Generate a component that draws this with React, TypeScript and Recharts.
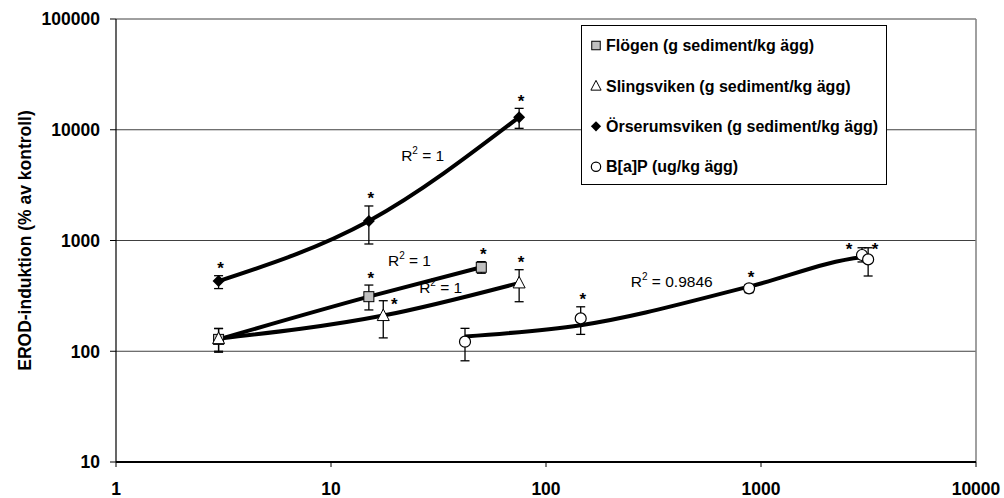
import { ComposedChart, XAxis, YAxis, CartesianGrid, Scatter, Line, ErrorBar, ReferenceLine, Legend } from 'recharts'

const FONT = '"Liberation Sans", Arial, Helvetica, sans-serif'

// dos (x), EROD-induktion i % av kontroll (y), felstaplarnas nedre/övre ände
const flogenX = [3, 15, 50]
const flogenY = [128, 311, 573]
const flogenLo = [98, 236, 506]
const flogenHi = [161, 396, 644]
const flogenSig = [false, true, true]

const slingX = [3, 17.5, 75]
const slingY = [130, 210, 414]
const slingLo = [100, 132, 280]
const slingHi = [160, 286, 545]
const slingSig = [false, true, true]

const orsX = [3, 15, 75]
const orsY = [430, 1500, 13000]
const orsLo = [368, 930, 10300]
const orsHi = [481, 2050, 15600]
const orsSig = [true, true, true]

const bapX = [42, 145, 880, 2950, 3150]
const bapY = [122, 198, 370, 740, 675]
const bapLo = [82, 142, 338, 640, 478]
const bapHi = [161, 252, 400, 860, 860]
const bapSig = [false, true, true, true, true]
// trendlinjen för B[a]P avläst vid samma doser
const bapTrend = [136, 172, 383, 705, 714]

const xTicks = [1, 10, 100, 1000, 10000]
const yTicks = [10, 100, 1000, 10000, 100000]

const seriesNames = [
  'Flögen (g sediment/kg ägg)',
  'Slingsviken (g sediment/kg ägg)',
  'Örserumsviken (g sediment/kg ägg)',
  'B[a]P (ug/kg ägg)',
]
const r2Values = ['1', '1', '1', '0.9846']
// var R²-texterna står (datakoordinater)
const r2X = [21.2, 18.4, 25.7, 248]
const r2Y = [5220, 589, 336, 380]

// asteriskernas förskjutning där de inte står rakt ovanför felstapeln
const starShift: Record<string, [number, number]> = {
  'sling-1': [11, 0],
  'bap-3': [-13, -2],
  'bap-4': [7, -2],
}

type Kind = 'square' | 'triangle' | 'diamond' | 'circle'

const toPoints = (xs: number[], ys: number[], lo: number[], hi: number[]) =>
  xs.map((x, i) => ({ x, y: ys[i], err: [ys[i] - lo[i], hi[i] - ys[i]] }))

const flogen = toPoints(flogenX, flogenY, flogenLo, flogenHi)
const sling = toPoints(slingX, slingY, slingLo, slingHi)
const ors = toPoints(orsX, orsY, orsLo, orsHi)
const bap = toPoints(bapX, bapY, bapLo, bapHi)
const bapLine = bapX.map((x, i) => ({ x, y: bapTrend[i] }))

const stars = [
  ...flogenX.map((x, i) => ({ x, y: flogenHi[i], key: `flogen-${i}`, on: flogenSig[i] })),
  ...slingX.map((x, i) => ({ x, y: slingHi[i], key: `sling-${i}`, on: slingSig[i] })),
  ...orsX.map((x, i) => ({ x, y: orsHi[i], key: `ors-${i}`, on: orsSig[i] })),
  ...bapX.map((x, i) => ({ x, y: bapHi[i], key: `bap-${i}`, on: bapSig[i] })),
].filter((s) => s.on)

const r2Labels = r2Values.map((v, i) => ({ x: r2X[i], y: r2Y[i], text: v }))

function Marker({ kind, cx, cy, s = 1 }: { kind: Kind; cx: number; cy: number; s?: number }) {
  if (kind === 'square')
    return <rect x={cx - 5 * s} y={cy - 5 * s} width={10 * s} height={10 * s} fill="#c0c0c0" stroke="#000" strokeWidth={1} />
  if (kind === 'triangle')
    return (
      <path
        d={`M${cx},${cy - 6.5 * s}L${cx + 6 * s},${cy + 5 * s}L${cx - 6 * s},${cy + 5 * s}Z`}
        fill="#fff"
        stroke="#000"
        strokeWidth={1}
      />
    )
  if (kind === 'diamond')
    return <path d={`M${cx},${cy - 6 * s}L${cx + 6 * s},${cy}L${cx},${cy + 6 * s}L${cx - 6 * s},${cy}Z`} fill="#000" />
  return <circle cx={cx} cy={cy} r={5.5 * s} fill="#fff" stroke="#000" strokeWidth={1.2} />
}

const kinds: Kind[] = ['square', 'triangle', 'diamond', 'circle']

function LegendBox() {
  return (
    <svg width={306} height={160} style={{ display: 'block' }}>
      <rect x={0.5} y={0.5} width={305} height={159} fill="#fff" stroke="#000" strokeWidth={1} />
      {seriesNames.map((name, i) => {
        const cy = 20.5 + i * 40.4
        return (
          <g key={name}>
            <Marker kind={kinds[i]} cx={15} cy={cy} s={0.85} />
            <text x={25} y={cy + 5.7} fontFamily={FONT} fontSize={16} fontWeight="bold" fill="#000">
              {name}
            </text>
          </g>
        )
      })}
    </svg>
  )
}

export default function App() {
  return (
    <div style={{ position: 'absolute', left: 0, top: 0, background: '#fff' }}>
      <ComposedChart width={1004} height={498} margin={{ top: 19, right: 28, bottom: 0, left: 0 }}>
        <CartesianGrid vertical={false} stroke="#404040" strokeWidth={1} />
        <XAxis
          type="number"
          dataKey="x"
          scale="log"
          domain={[1, 10000]}
          ticks={xTicks}
          allowDataOverflow
          height={36}
          tickSize={5}
          tickMargin={2}
          axisLine={{ stroke: '#000', strokeWidth: 2 }}
          tickLine={{ stroke: '#000', strokeWidth: 1 }}
          tick={(p: any) => (
            <text x={p.x} y={p.y + 25.5} textAnchor="middle" fontFamily={FONT} fontSize={17.5} fontWeight="bold" fill="#000">
              {p.payload.value}
            </text>
          )}
        />
        <YAxis
          type="number"
          scale="log"
          domain={[10, 100000]}
          ticks={yTicks}
          allowDataOverflow
          width={116}
          tickSize={6}
          tickMargin={10}
          axisLine={{ stroke: '#000', strokeWidth: 1.2 }}
          tickLine={{ stroke: '#000', strokeWidth: 1 }}
          tick={(p: any) => (
            <text x={p.x} y={p.y + 6.3} textAnchor="end" fontFamily={FONT} fontSize={17.5} fontWeight="bold" fill="#000">
              {p.payload.value}
            </text>
          )}
          label={{
            content: () => (
              <text
                x={31}
                y={240.5}
                transform="rotate(-90 31 240.5)"
                textAnchor="middle"
                fontFamily={FONT}
                fontSize={17.5}
                fontWeight="bold"
                fill="#000"
              >
                EROD-induktion (% av kontroll)
              </text>
            ),
          }}
        />
        <ReferenceLine x={10000} stroke="#808080" strokeWidth={1.5} />

        <Scatter data={flogen} dataKey="y" isAnimationActive={false} shape={(p: any) => <Marker kind="square" cx={p.cx} cy={p.cy} />}>
          <ErrorBar dataKey="err" direction="y" width={4.5} stroke="#000" strokeWidth={1.3} />
        </Scatter>
        <Scatter data={sling} dataKey="y" isAnimationActive={false} shape={(p: any) => <Marker kind="triangle" cx={p.cx} cy={p.cy} />}>
          <ErrorBar dataKey="err" direction="y" width={4.5} stroke="#000" strokeWidth={1.3} />
        </Scatter>
        <Scatter data={ors} dataKey="y" isAnimationActive={false} shape={(p: any) => <Marker kind="diamond" cx={p.cx} cy={p.cy} />}>
          <ErrorBar dataKey="err" direction="y" width={4.5} stroke="#000" strokeWidth={1.3} />
        </Scatter>
        <Scatter data={bap} dataKey="y" isAnimationActive={false} shape={(p: any) => <Marker kind="circle" cx={p.cx} cy={p.cy} />}>
          <ErrorBar dataKey="err" direction="y" width={4.5} stroke="#000" strokeWidth={1.3} />
        </Scatter>

        <Line data={flogen} dataKey="y" type="monotone" stroke="#000" strokeWidth={4} dot={false} activeDot={false} isAnimationActive={false} />
        <Line data={sling} dataKey="y" type="monotone" stroke="#000" strokeWidth={4} dot={false} activeDot={false} isAnimationActive={false} />
        <Line data={ors} dataKey="y" type="monotone" stroke="#000" strokeWidth={4} dot={false} activeDot={false} isAnimationActive={false} />
        <Line data={bapLine} dataKey="y" type="monotone" stroke="#000" strokeWidth={4} dot={false} activeDot={false} isAnimationActive={false} />

        <Scatter
          data={stars}
          dataKey="y"
          isAnimationActive={false}
          shape={(p: any) => {
            const [dx, dy] = starShift[p.payload.key] ?? [2, -11]
            return (
              <text x={p.cx + dx} y={p.cy + dy + 9.5} textAnchor="middle" fontFamily={FONT} fontSize={17} fontWeight="bold" fill="#000">
                *
              </text>
            )
          }}
        />
        <Scatter
          data={r2Labels}
          dataKey="y"
          isAnimationActive={false}
          shape={(p: any) => (
            <text x={p.cx} y={p.cy} fontFamily={FONT} fontSize={15.5} fill="#000" style={{ whiteSpace: 'pre' }}>
              R<tspan fontSize={10} dy={-7}>2</tspan>
              <tspan dy={7}>{` = ${p.payload.text}`}</tspan>
            </text>
          )}
        />

        <Legend
          layout="vertical"
          align="center"
          verticalAlign="middle"
          content={() => <LegendBox />}
          wrapperStyle={{ position: 'absolute', left: 581, top: 25, width: 306, height: 160 }}
        />
      </ComposedChart>
    </div>
  )
}
